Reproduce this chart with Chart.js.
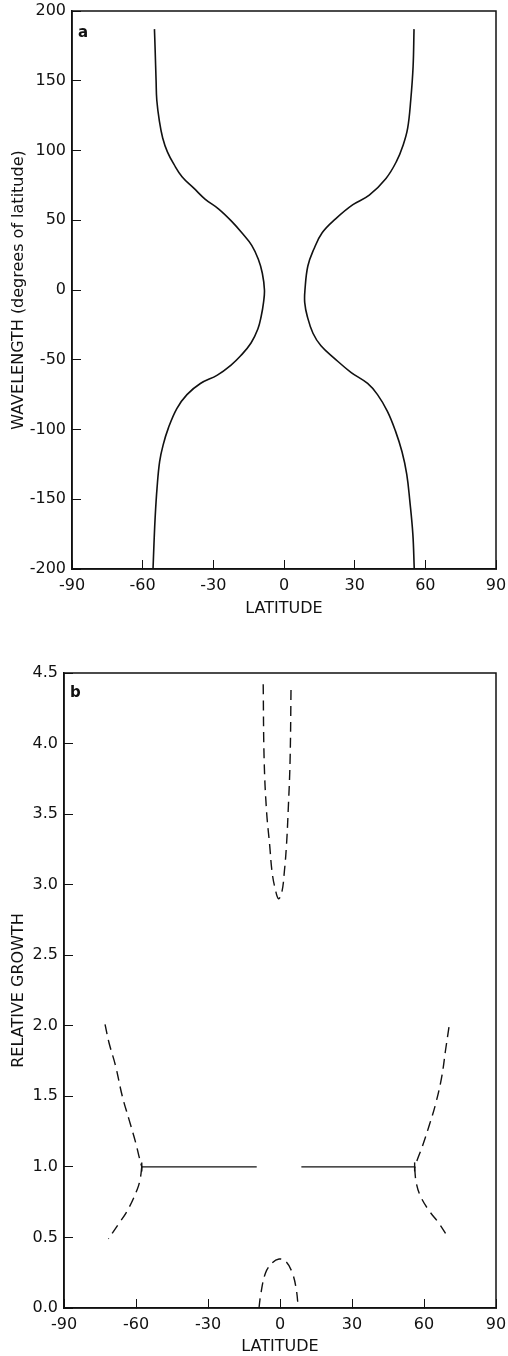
<!DOCTYPE html>
<html lang="en">
<head>
<meta charset="UTF-8">
<title>Wavelength and relative growth vs latitude</title>
<script src="https://cdn.jsdelivr.net/npm/chart.js"></script>
<style>
  body { margin: 0; background: #fff; width: 508px; height: 1356px; position: relative; overflow: hidden; }
  .box { position: absolute; left: 0; width: 508px; }
</style>
</head>
<body>
<div class="box" style="top:0;height:630px"><canvas id="chartA" width="508" height="630"></canvas></div>
<div class="box" style="top:640px;height:716px"><canvas id="chartB" width="508" height="716"></canvas></div>
<script>
// panel a : wavelength (degrees of latitude) against latitude, read top to bottom
const aLeftLat  = [-55.0, -54.7, -54.3, -54.0, -52.9, -51.5, -49.5, -46.7, -43.2, -38.3, -33.4, -27.7, -22.1, -17.9, -13.7, -10.9, -9.2, -8.3,
                   -8.7, -9.7, -11.1, -14.0, -18.3, -22.6, -28.3, -35.5, -41.2, -45.5, -49.1, -51.3, -52.8, -53.9, -54.7, -55.2, -55.6]
const aLeftWave = [187, 172, 150, 136, 121, 109, 99, 90, 81, 73, 65, 58, 49, 41, 32, 22, 12, 0,
                   -9, -19, -28, -38, -47, -54, -61, -67, -75, -85, -99, -111, -123, -142, -163, -182, -200]
const aRightLat  = [55.2, 54.8, 53.8, 52.5, 50.6, 47.7, 43.3, 36.2, 29.1, 21.9, 16.2, 12.6, 10.1, 8.9,
                    8.8, 9.9, 12.3, 15.7, 21.4, 28.4, 35.5, 39.7, 43.9, 47.3, 50.1, 52.1, 53.4, 54.7, 55.3]
const aRightWave = [187, 160, 136, 116, 104, 92, 80, 68, 61, 51, 41, 29, 17, 0,
                    -9, -19, -31, -40, -49, -59, -67, -75, -87, -101, -116, -132, -151, -175, -200]

// panel b : relative growth against latitude
const bTopLat    = [-7.0, -6.6, -5.6, -4.3, -3.3, -2.0, -0.6, 0.8, 1.8, 2.7, 3.4, 4.2, 4.6]
const bTopGrowth = [4.42, 3.88, 3.52, 3.28, 3.09, 2.97, 2.90, 2.95, 3.09, 3.28, 3.52, 3.88, 4.40]
const bArchLat    = [-8.75, -8.0, -6.0, -3.2, -0.4, 2.4, 5.1, 6.8, 7.6]
const bArchGrowth = [0, 0.10, 0.25, 0.32, 0.347, 0.33, 0.25, 0.13, 0]
const bLeftUpLat     = [-72.9, -71.25, -68.5, -65.7, -62.9, -60.1, -58.75, -57.6]
const bLeftUpGrowth  = [2.01, 1.88, 1.715, 1.50, 1.335, 1.17, 1.075, 1.0]
const bLeftLowLat    = [-57.6, -58.2, -59.5, -63.6, -67.5, -71.5]
const bLeftLowGrowth = [1.0, 0.92, 0.84, 0.69, 0.59, 0.49]
const bRightUpLat     = [70.4, 69.0, 67.4, 64.9, 62.1, 59.3, 57.2, 56.1]
const bRightUpGrowth  = [1.99, 1.83, 1.64, 1.45, 1.29, 1.145, 1.05, 0.99]
const bRightLowLat    = [56.1, 56.8, 58.6, 62.1, 66.25, 70.4]
const bRightLowGrowth = [0.99, 0.885, 0.79, 0.69, 0.60, 0.49]
const bBarLeftLat  = [-57.6, -9.7]
const bBarRightLat = [8.9, 56.1]
const bBarGrowth   = [1.0, 1.0]

const latTicks = [-90, -60, -30, 0, 30, 60, 90]

const ink = '#111'
const tickFont = { family: '"DejaVu Sans", sans-serif', size: 16 }
const titleFont = { family: '"DejaVu Sans", sans-serif', size: 16 }

function pts(xs, ys) {
    return xs.map((x, i) => ({ x: x, y: ys[i] }))
}

function curve(xs, ys, dashed) {
    return {
        data: pts(xs, ys),
        showLine: true,
        borderColor: ink,
        borderWidth: dashed ? 1.4 : 1.6,
        borderDash: dashed ? [10, 6] : [],
        tension: 0.4,
        pointRadius: 0,
        fill: false
    }
}

// frame around the plot plus the panel letter
const framePlugin = {
    id: 'frame',
    afterDraw(chart, args, opts) {
        const ctx = chart.ctx
        const a = chart.chartArea
        ctx.save()
        ctx.strokeStyle = ink
        ctx.lineWidth = 1.5
        ctx.strokeRect(a.left, a.top, a.right - a.left, a.bottom - a.top)
        ctx.fillStyle = ink
        ctx.font = 'bold 15px "DejaVu Sans", sans-serif'
        ctx.fillText(opts.label, a.left + opts.dx, a.top + opts.dy)
        ctx.restore()
    }
}

function xAxis(bottomPad, height) {
    return {
        type: 'linear', min: -90, max: 90,
        afterBuildTicks: s => { s.ticks = latTicks.map(v => ({ value: v })) },
        ticks: { color: ink, font: tickFont, padding: 16, maxRotation: 0 },
        grid: { drawOnChartArea: false, tickLength: -9, color: ink, lineWidth: 1 },
        border: { color: ink, width: 1.5 },
        title: { display: true, text: 'LATITUDE', color: ink, font: titleFont, padding: { top: 0, bottom: bottomPad } },
        afterFit: s => { s.height = height; s.paddingLeft = 0; s.paddingRight = 0 }
    }
}

function yAxis(min, max, step, text, width, fmt) {
    return {
        type: 'linear', min: min, max: max,
        ticks: { stepSize: step, color: ink, font: tickFont, padding: 15, callback: fmt },
        grid: { drawOnChartArea: false, tickLength: -9, color: ink, lineWidth: 1 },
        border: { color: ink, width: 1.5 },
        title: { display: true, text: text, color: ink, font: titleFont, padding: { top: 9, bottom: 0 } },
        afterFit: s => { s.width = width; s.paddingTop = 0; s.paddingBottom = 0 }
    }
}

const common = {
    responsive: false,
    animation: false,
    events: [],
    plugins: { legend: { display: false }, tooltip: { enabled: false } }
}

new Chart(document.getElementById('chartA'), {
    type: 'scatter',
    data: {
        datasets: [
            curve(aLeftLat, aLeftWave, false),
            curve(aRightLat, aRightWave, false)
        ]
    },
    options: {
        ...common,
        layout: { padding: { top: 11, right: 12, left: 0, bottom: 0 } },
        plugins: { ...common.plugins, frame: { label: 'a', dx: 6, dy: 26 } },
        scales: {
            x: xAxis(12, 61),
            y: yAxis(-200, 200, 50, 'WAVELENGTH (degrees of latitude)', 72, v => String(v))
        }
    },
    plugins: [framePlugin]
})

const barLeft = curve(bBarLeftLat, bBarGrowth, false)
barLeft.tension = 0
barLeft.borderWidth = 1.4
barLeft.pointStyle = 'line'
barLeft.rotation = 90
barLeft.pointRadius = [4.5, 0]
barLeft.pointBorderColor = ink
barLeft.pointBorderWidth = 1.4

const barRight = curve(bBarRightLat, bBarGrowth, false)
barRight.tension = 0
barRight.borderWidth = 1.4
barRight.pointStyle = 'line'
barRight.rotation = 90
barRight.pointRadius = [0, 4.5]
barRight.pointBorderColor = ink
barRight.pointBorderWidth = 1.4

new Chart(document.getElementById('chartB'), {
    type: 'scatter',
    data: {
        datasets: [
            curve(bTopLat, bTopGrowth, true),
            curve(bArchLat, bArchGrowth, true),
            curve(bLeftUpLat, bLeftUpGrowth, true),
            curve(bLeftLowLat, bLeftLowGrowth, true),
            curve(bRightUpLat, bRightUpGrowth, true),
            curve(bRightLowLat, bRightLowGrowth, true),
            barLeft,
            barRight
        ]
    },
    options: {
        ...common,
        layout: { padding: { top: 33, right: 12, left: 0, bottom: 0 } },
        plugins: { ...common.plugins, frame: { label: 'b', dx: 6, dy: 24 } },
        scales: {
            x: xAxis(0, 48),
            y: yAxis(0, 4.5, 0.5, 'RELATIVE GROWTH', 64, v => v.toFixed(1))
        }
    },
    plugins: [framePlugin]
})
</script>
</body>
</html>
